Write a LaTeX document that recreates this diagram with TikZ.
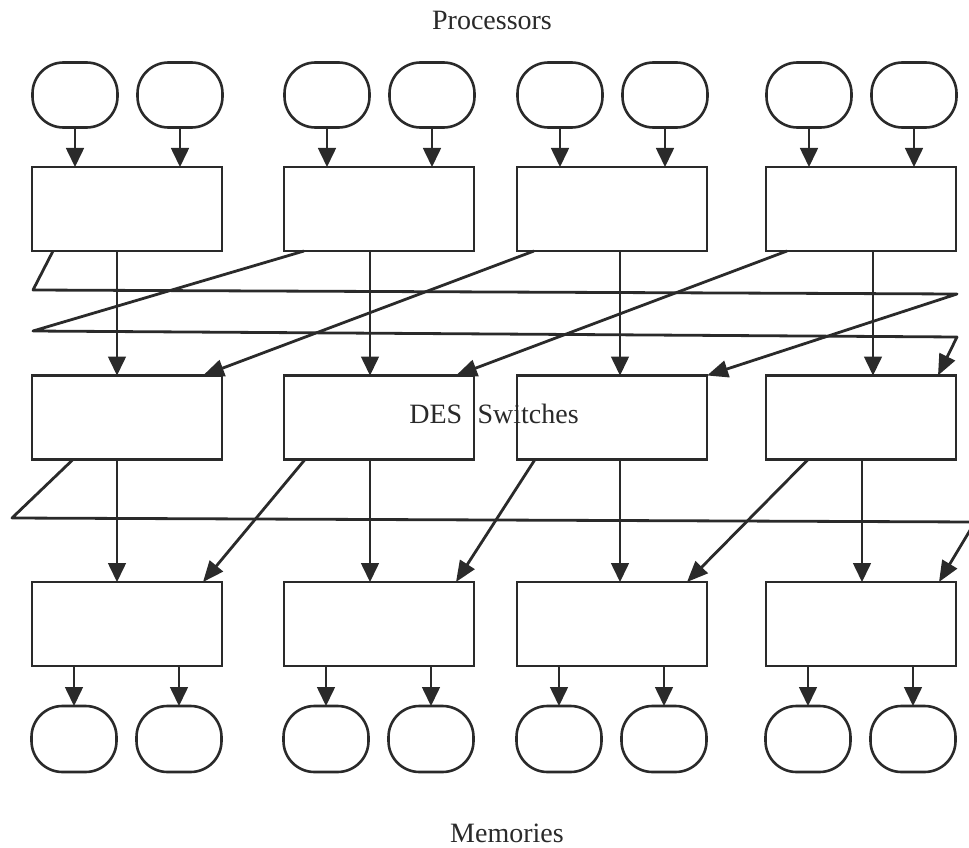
\documentclass[tikz,border=0pt]{standalone}
\usepackage{fontspec}
\setmainfont{Liberation Serif}
\usetikzlibrary{arrows.meta}
\definecolor{ink}{HTML}{2A2A2A}
\begin{document}
\begin{tikzpicture}[x=1pt,y=-1pt,
  unit/.style={draw=ink, line width=2.8pt, minimum width=190pt, minimum height=84pt,
    inner sep=0pt, outer sep=0pt},
  cell/.style={draw=ink, line width=2.6pt, minimum width=85pt, minimum height=65pt,
    rounded corners=31pt, inner sep=0pt, outer sep=0pt},
  feed/.style={draw=ink, line width=1.6pt, -{Triangle[length=19pt,width=18pt]}},
  cross/.style={draw=ink, line width=2.8pt, line join=round,
    -{Triangle[length=21pt,width=17pt]}},
  caption/.style={font=\fontsize{28}{33}\selectfont, text=ink, inner sep=0pt, anchor=base}]
\useasboundingbox (0,0) rectangle (969,848);
\begin{scope}
\clip (0,0) rectangle (969,848);

% labels
\node[caption] (ptitle) at (492,30) {Processors};
\node[caption] (mtitle) at (507,842) {Memories};
\node[caption] (stitle) at (494,423) {DES\hspace{0.55em}Switches};

% processors, three switch stages, memories
\foreach \i/\L in {1/32,2/284,3/517,4/766}{
  \node[cell] (pa\i) at (\L+43,95) {};
  \node[cell] (pb\i) at (\L+148,95) {};
  \node[unit] (a\i) at (\L+95,209) {};
  \node[unit] (b\i) at (\L+95,417.5) {};
  \node[unit] (c\i) at (\L+95,624) {};
  \node[cell, minimum height=66pt] (ma\i) at (\L+42,739) {};
  \node[cell, minimum height=66pt] (mb\i) at (\L+147,739) {};
  % processor inputs and memory outputs
  \draw[feed] (pa\i.south) -- (pa\i.south |- a\i.north);
  \draw[feed] (pb\i.south) -- (pb\i.south |- a\i.north);
  \draw[feed] (ma\i.north |- c\i.south) -- (ma\i.north);
  \draw[feed] (mb\i.north |- c\i.south) -- (mb\i.north);
}

% straight links between stages
\foreach \i/\s/\t in {1/85/85,2/86/86,3/103/103,4/107/96}{
  \draw[feed] ([xshift=\s pt]a\i.south west) -- ([xshift=\s pt]b\i.north west);
  \draw[feed] ([xshift=\t pt]b\i.south west) -- ([xshift=\t pt]c\i.north west);
}

% first stage to second: shift by two, wrapping round
\coordinate (w1) at (33,290);
\coordinate (w2) at (957,294);
\coordinate (w3) at (33,331);
\coordinate (w4) at (957,337);
\draw[cross] ([xshift=21pt]a1.south west) -- (w1) -- (w2) -- (b3.north east);
\draw[cross] ([xshift=20pt]a2.south west) -- (w3) -- (w4) -- ([xshift=-18pt]b4.north east);
\draw[cross] ([xshift=17pt]a3.south west) -- ([xshift=-19pt]b1.north east);
\draw[cross] ([xshift=21pt]a4.south west) -- ([xshift=-18pt]b2.north east);

% second stage to third: shift by one, wrapping round
\coordinate (w5) at (12,518);
\coordinate (w6) at (975,522);
\draw[cross] ([xshift=41pt]b1.south west) -- (w5) -- (w6) -- ([xshift=-17pt]c4.north east);
\draw[cross] ([xshift=21pt]b2.south west) -- ([xshift=-19pt]c1.north east);
\draw[cross] ([xshift=18pt]b3.south west) -- ([xshift=-18pt]c2.north east);
\draw[cross] ([xshift=42pt]b4.south west) -- ([xshift=-20pt]c3.north east);
\end{scope}
\end{tikzpicture}
\end{document}
